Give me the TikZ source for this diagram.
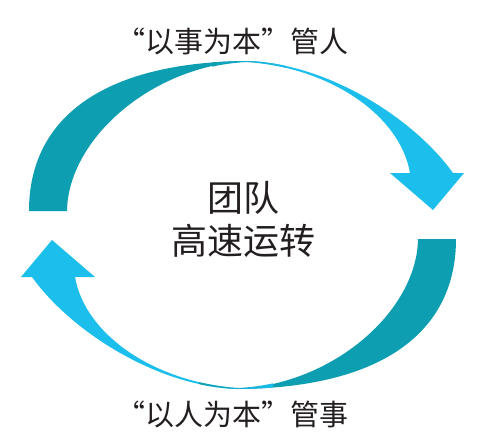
\documentclass[tikz,border=0pt]{standalone}
\usepackage{fontspec}
\newfontfamily\cjk{Noto Sans CJK SC}
\definecolor{tealdark}{RGB}{14,158,177}
\definecolor{cyanlight}{RGB}{28,190,236}
\definecolor{txt}{RGB}{35,31,32}
\tikzset{
  darkpart/.style={fill=tealdark, draw=none},
  lightpart/.style={fill=cyanlight, draw=none},
  glow/.style={left color=tealdark, middle color=cyanlight!45!white, right color=cyanlight},
  lbl/.style={text=txt, inner sep=0pt, font=\cjk\fontsize{29}{34}\selectfont},
  centerlbl/.style={text=txt, inner sep=0pt, align=center, font=\cjk\fontsize{36}{43}\selectfont}
}
\newcommand{\arrowoutline}{%
  (29,211) .. controls (29,120) and (100,62) .. (248,61)
  .. controls (330,64) and (415,120) .. (453,173)
  -- (464,173) -- (433,210) -- (390,173) -- (410,173)
  .. controls (400,115) and (330,68) .. (248,62)
  .. controls (150,66) and (68,140) .. (67,211) -- cycle}
\newcommand{\toparrow}{%
  \fill[darkpart] (29,211) .. controls (29,120) and (100,62) .. (248,61)
     .. controls (150,66) and (68,140) .. (67,211) -- cycle;
  \fill[lightpart] (248,61) .. controls (330,64) and (415,120) .. (453,173)
     -- (464,173) -- (433,210) -- (390,173) -- (410,173)
     .. controls (400,115) and (330,68) .. (248,62) -- cycle;
  \begin{scope}
    \clip \arrowoutline;
    \shade[glow] (212,50) rectangle (286,85);
  \end{scope}
}
\begin{document}
\begin{tikzpicture}[x=1pt,y=-1pt]
\useasboundingbox (0,0) rectangle (492,441);
\fill[white] (0,0) rectangle (492,441);
\toparrow
\begin{scope}[rotate around={180:(242.5,225)}]
\toparrow
\end{scope}
\node[lbl] (top) at (232.5,41) {“以事为本”管人};
\node[lbl] (bot) at (232.5,414) {“以人为本”管事};
\node[centerlbl] (mid) at (243,219) {团队\\高速运转};
\end{tikzpicture}
\end{document}
